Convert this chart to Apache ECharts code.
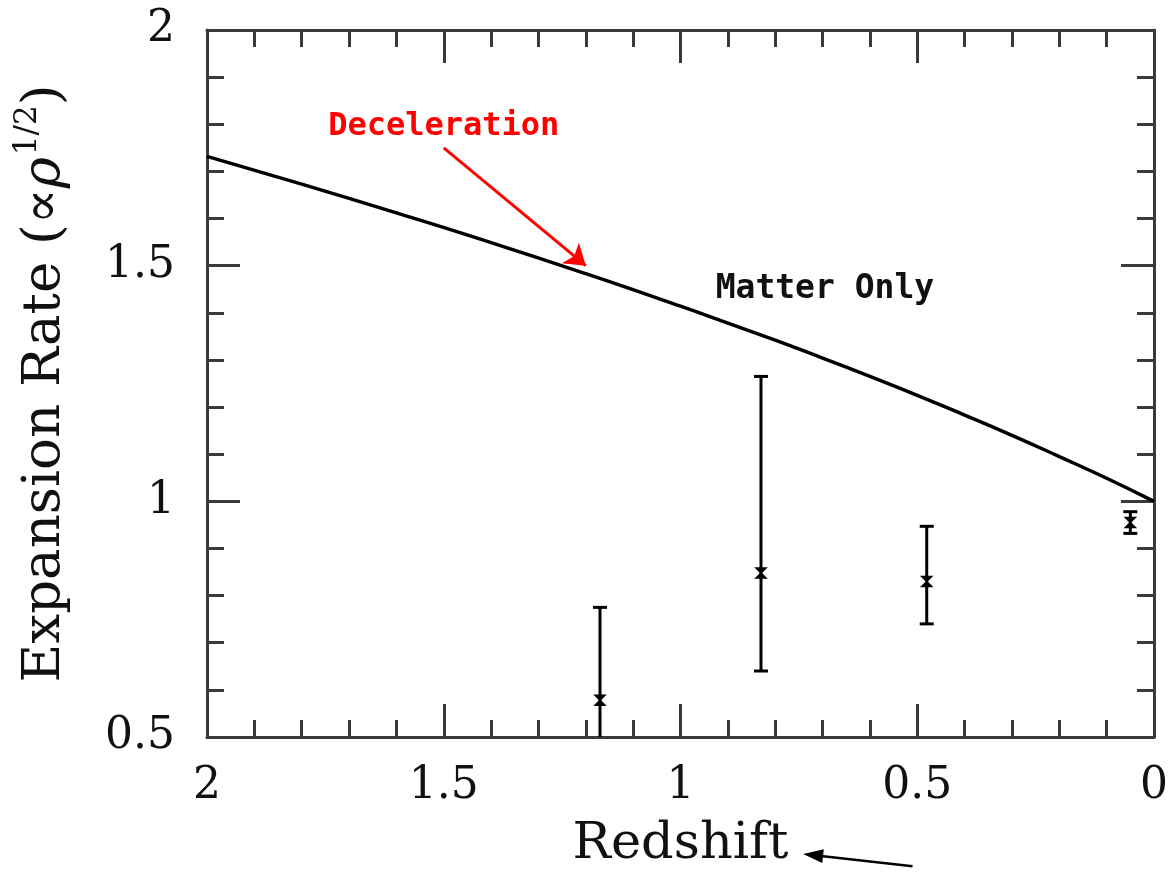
<!DOCTYPE html>
<html>
<head>
<meta charset="utf-8">
<script src="https://cdn.jsdelivr.net/npm/echarts@6/dist/echarts.min.js"></script>
<style>
html,body{margin:0;padding:0;background:#fff;overflow:hidden;width:1171px;height:875px;}
#chart{width:1171px;height:875px;}
</style>
</head>
<body>
<div id="chart"></div>
<script>
// Matter-only curve (redshift, expansion rate)
const curveZ = [0, 0.1, 0.2, 0.3, 0.4, 0.5, 0.6, 0.7, 0.8, 0.9, 1.0, 1.2, 1.4, 1.6, 1.8, 2.0];
const curveH = [1.000, 1.049, 1.095, 1.140, 1.183, 1.225, 1.265, 1.304, 1.342, 1.378, 1.414, 1.483, 1.549, 1.612, 1.673, 1.732];

// Data points with error bars
const pointZ    = [1.17, 0.83, 0.48, 0.05];
const pointH    = [0.578, 0.848, 0.83, 0.955];
const pointLow  = [0.38, 0.64, 0.74, 0.932];
const pointHigh = [0.775, 1.265, 0.947, 0.978];

// Annotations (data coordinates)
const decelLabel = ['Deceleration', 1.5, 1.795];
const decelArrow = [[1.5, 1.75], [1.2, 1.50]];
const matterLabel = ['Matter Only', 0.695, 1.45];
const blackArrow = [[0.51, 0.226], [0.741, 0.252]];

// Axis ticks
const xTicks = ['0', '0.5', '1', '1.5', '2'];
const yTicks = ['0.5', '1', '1.5', '2'];

const AXIS = '#3a3a3a';
const SERIF = '"DejaVu Serif", serif';
const MONO = '"DejaVu Sans Mono", monospace';

const curveData = curveZ.map((z, i) => [z, curveH[i]]);
const pointData = pointZ.map((z, i) => [z, pointH[i], pointLow[i], pointHigh[i]]);

function axisCommon(showLabel) {
  return {
    axisLine: {show: true, onZero: false, lineStyle: {color: AXIS, width: 3}},
    axisTick: {show: true, inside: true, length: 33, lineStyle: {color: AXIS, width: 3}},
    minorTick: {show: true, splitNumber: 5, length: 17, lineStyle: {color: AXIS, width: 3}},
    splitLine: {show: false},
    minorSplitLine: {show: false},
    axisLabel: {show: showLabel}
  };
}

const chart = echarts.init(document.getElementById('chart'), null, {renderer: 'canvas', width: 1171, height: 875});

const option = {
  animation: false,
  backgroundColor: '#fff',
  grid: {left: 207, right: 14, top: 30, bottom: 132, containLabel: false},
  xAxis: [
    Object.assign(axisCommon(true), {
      type: 'value', min: 0, max: 2, interval: 0.5, inverse: true, position: 'bottom',
      name: 'Redshift', nameLocation: 'middle', nameGap: 82,
      nameTextStyle: {fontFamily: SERIF, fontSize: 51, color: '#111'},
      axisLabel: {show: true, margin: 28, fontFamily: SERIF, fontSize: 44, color: '#111',
        formatter: v => xTicks[Math.round(v * 2)]}
    }),
    Object.assign(axisCommon(false), {
      type: 'value', min: 0, max: 2, interval: 0.5, inverse: true, position: 'top'
    })
  ],
  yAxis: [
    Object.assign(axisCommon(true), {
      type: 'value', min: 0.5, max: 2, interval: 0.5, position: 'left',
      name: '{a|Expansion Rate (∝}{r|ρ}{s|1/2}{a|)}',
      nameLocation: 'middle', nameGap: 135, nameRotate: 90,
      nameTextStyle: {
        fontFamily: SERIF, fontSize: 53, color: '#111',
        rich: {
          a: {fontFamily: SERIF, fontSize: 53, color: '#111', lineHeight: 60, verticalAlign: 'bottom'},
          r: {fontFamily: SERIF, fontSize: 53, fontStyle: 'italic', color: '#111', lineHeight: 60, verticalAlign: 'bottom'},
          s: {fontFamily: SERIF, fontSize: 31, color: '#111', lineHeight: 60, verticalAlign: 'top', padding: [0, 0, 0, 2]}
        }
      },
      axisLabel: {show: true, margin: 32, fontFamily: SERIF, fontSize: 44, color: '#111',
        formatter: v => yTicks[Math.round(v * 2) - 1]}
    }),
    Object.assign(axisCommon(false), {
      type: 'value', min: 0.5, max: 2, interval: 0.5, position: 'right'
    })
  ],
  series: [
    {
      type: 'line',
      data: curveData,
      smooth: true,
      showSymbol: false,
      clip: true,
      lineStyle: {color: '#000', width: 3.5},
      markPoint: {
        symbol: 'circle', symbolSize: 0,
        data: [
          {coord: [decelLabel[1], decelLabel[2]], value: decelLabel[0],
            label: {show: true, position: 'inside', formatter: decelLabel[0],
              fontFamily: MONO, fontWeight: 'bold', fontSize: 32, color: '#ff0000'}},
          {coord: [matterLabel[1], matterLabel[2]], value: matterLabel[0],
            label: {show: true, position: 'inside', formatter: matterLabel[0],
              fontFamily: MONO, fontWeight: 'bold', fontSize: 33, color: '#111'}}
        ]
      },
      markLine: {
        silent: true,
        symbol: ['none', 'arrow'],
        symbolSize: 20,
        label: {show: false},
        lineStyle: {color: '#ff0000', width: 3, type: 'solid'},
        data: [[{coord: decelArrow[0]}, {coord: decelArrow[1]}]]
      }
    },
    {
      type: 'custom',
      clip: true,
      data: pointData,
      encode: {x: 0, y: [1, 2, 3]},
      renderItem: function (params, api) {
        const x = api.value(0), y = api.value(1), lo = api.value(2), hi = api.value(3);
        const pt = api.coord([x, hi]);
        const pb = api.coord([x, lo]);
        const pc = api.coord([x, y]);
        const cap = 7, m = 5;
        const st = {stroke: '#000', lineWidth: 3, fill: null};
        return {
          type: 'group',
          children: [
            {type: 'line', shape: {x1: pt[0], y1: pt[1], x2: pb[0], y2: pb[1]}, style: st},
            {type: 'line', shape: {x1: pt[0] - cap, y1: pt[1], x2: pt[0] + cap, y2: pt[1]}, style: st},
            {type: 'line', shape: {x1: pb[0] - cap, y1: pb[1], x2: pb[0] + cap, y2: pb[1]}, style: st},
            {type: 'polygon', shape: {points: [[pc[0] - m, pc[1] - m], [pc[0] + m, pc[1] - m], [pc[0] - m, pc[1] + m], [pc[0] + m, pc[1] + m]]},
              style: {fill: '#000', stroke: '#000', lineWidth: 1.5}}
          ]
        };
      }
    }
  ]
};

chart.setOption(option);

// Black arrow below the axis pointing at the "Redshift" title
const tail = chart.convertToPixel({xAxisIndex: 0, yAxisIndex: 0}, blackArrow[0]);
const tip = chart.convertToPixel({xAxisIndex: 0, yAxisIndex: 0}, blackArrow[1]);
const dx = tip[0] - tail[0], dy = tip[1] - tail[1];
const len = Math.sqrt(dx * dx + dy * dy);
const ux = dx / len, uy = dy / len;
const hl = 20, hw = 7;
const bx = tip[0] - ux * hl, by = tip[1] - uy * hl;
chart.setOption({
  graphic: [
    {type: 'line', shape: {x1: tail[0], y1: tail[1], x2: bx + ux * 2, y2: by + uy * 2},
      style: {stroke: '#000', lineWidth: 2.5}},
    {type: 'polygon', shape: {points: [[tip[0], tip[1]], [bx - uy * hw, by + ux * hw], [bx + uy * hw, by - ux * hw]]},
      style: {fill: '#000'}}
  ]
});
</script>
</body>
</html>
